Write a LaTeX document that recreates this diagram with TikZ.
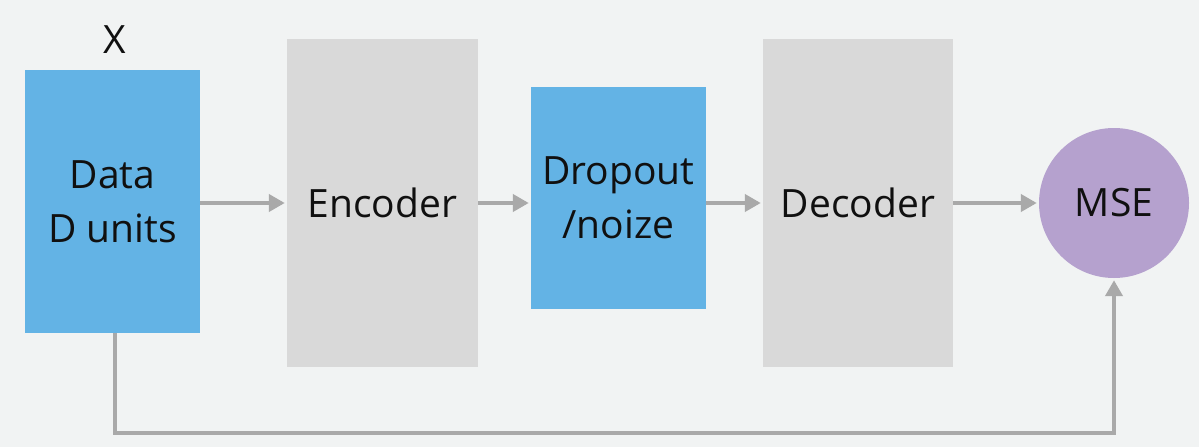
\documentclass[tikz,border=0pt]{standalone}
\usepackage{fontspec}
\setmainfont{Open Sans}
\usetikzlibrary{arrows.meta}
\definecolor{bg}{HTML}{F1F3F3}
\definecolor{blu}{HTML}{63B3E5}
\definecolor{gry}{HTML}{D9D9D9}
\definecolor{pur}{HTML}{B5A1CE}
\definecolor{arr}{HTML}{A9A9A9}
\definecolor{txt}{HTML}{101010}
\begin{document}
\begin{tikzpicture}[x=1pt,y=-1pt,
  box/.style={rectangle,inner sep=0pt,text=txt,align=center,font=\fontsize{39}{54}\selectfont},
  bluebox/.style={box,fill=blu},
  graybox/.style={box,fill=gry},
  conn/.style={draw=arr,line width=4.5pt,-{Triangle[length=16pt,width=17pt]},shorten >=2pt}]
\fill[bg] (0,0) rectangle (1199,447);
\useasboundingbox (0,0) rectangle (1199,447);
\node[bluebox,minimum width=175pt,minimum height=263pt] (data) at (112.5,201.5) {Data\\D units};
\node[box,anchor=center] (x) at (115,40) {X};
\node[graybox,minimum width=191pt,minimum height=328pt] (enc) at (382.5,203) {Encoder};
\node[bluebox,minimum width=175pt,minimum height=222pt] (drop) at (618.5,198) {Dropout\\/noize};
\node[graybox,minimum width=190pt,minimum height=328pt] (dec) at (858,203) {Decoder};
\node[circle,fill=pur,inner sep=0pt,minimum size=150pt,text=txt,font=\fontsize{39}{54}\selectfont] (mse) at (1114,203) {MSE};
\coordinate (c1) at (115,433);
\coordinate (c2) at (1114,433);
\draw[conn] ([yshift=-1.5pt]data.east) -- ([yshift=-1.5pt]data.east -| enc.west);
\draw[conn] (enc.east) -- (enc.east -| drop.west);
\draw[conn] (drop.east |- dec.west) -- (dec.west);
\draw[conn] (dec.east) -- (mse.west);
\draw[conn] (data.south -| c1) -- (c1) -- (c2) -- (mse.south);
\end{tikzpicture}
\end{document}
